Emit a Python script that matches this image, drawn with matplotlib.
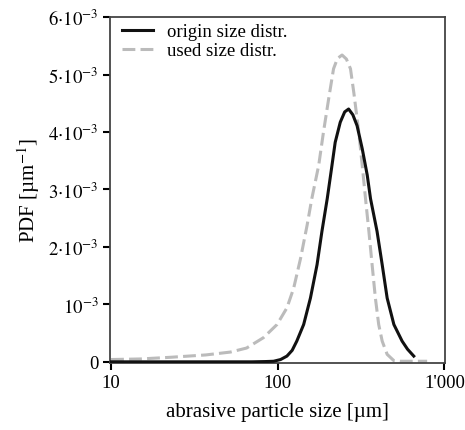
import matplotlib
matplotlib.use('Agg')
import matplotlib.pyplot as plt
from matplotlib.ticker import FixedLocator, NullLocator

plt.rcParams['font.family'] = ['Liberation Serif', 'DejaVu Serif']
plt.rcParams['mathtext.fontset'] = 'stix'

# origin size distribution (size in um, PDF in 1e-3 / um)
origin_x = [10, 40, 70, 85, 94.4, 104, 113.5, 122, 130, 143, 157, 172, 184, 198, 210,
            221, 237, 252, 266, 282, 299, 321, 344, 360, 394, 423, 453, 497, 557, 600, 654]
origin_y = [0.0, 0.0, 0.0, 0.005, 0.01, 0.04, 0.10, 0.20, 0.36, 0.65, 1.11, 1.69, 2.27,
            2.84, 3.36, 3.82, 4.17, 4.35, 4.40, 4.30, 4.11, 3.71, 3.25, 2.84, 2.27, 1.69,
            1.11, 0.65, 0.36, 0.22, 0.10]

# used size distribution
used_x = [10, 15, 23, 37, 52, 65, 82, 99, 113.5, 124.5, 137, 150, 160, 176, 188, 202,
          216, 228, 243, 258, 273, 286, 306, 321, 336, 352, 368, 385, 403, 423, 453,
          497, 540, 787]
used_y = [0.04, 0.05, 0.08, 0.12, 0.17, 0.24, 0.42, 0.65, 0.94, 1.28, 1.80, 2.38, 2.84,
          3.42, 4.00, 4.58, 5.10, 5.28, 5.34, 5.27, 5.10, 4.68, 4.00, 3.42, 2.84, 2.27,
          1.69, 1.11, 0.65, 0.36, 0.13, 0.02, 0.01, 0.01]

y_ticks = [0, 1, 2, 3, 4, 5, 6]
y_labels = ['0', r'$10^{-3}$', r'$2{\cdot}10^{-3}$', r'$3{\cdot}10^{-3}$',
            r'$4{\cdot}10^{-3}$', r'$5{\cdot}10^{-3}$', r'$6{\cdot}10^{-3}$']
x_ticks = [10, 100, 1000]
x_labels = ['10', '100', "1'000"]

fig = plt.figure(figsize=(4.65, 4.31), dpi=100)
ax = fig.add_axes([0.2366, 0.1555, 0.7204, 0.8025])

ax.plot(origin_x, [v * 1e-3 for v in origin_y], color='#111111', lw=2.2,
        label='origin size distr.', zorder=3, solid_joinstyle='round')
ax.plot(used_x, [v * 1e-3 for v in used_y], color='#bbbbbb', lw=2.2,
        dashes=(4.2, 1.7), label='used size distr.', zorder=2)

ax.set_xscale('log')
ax.set_xlim(9.86, 1007)
ax.set_ylim(-0.02e-3, 6e-3)
ax.xaxis.set_major_locator(FixedLocator(x_ticks))
ax.xaxis.set_minor_locator(NullLocator())
ax.set_xticklabels(x_labels)
ax.set_yticks([v * 1e-3 for v in y_ticks])
ax.set_yticklabels(y_labels)

for s in ax.spines.values():
    s.set_color('#444444')
    s.set_linewidth(1.3)
ax.tick_params(axis='both', direction='out', length=5, width=1.5, color='black',
               labelsize=13.5, pad=3)

ax.set_xlabel('abrasive particle size [µm]', fontsize=15, labelpad=8)
ax.set_ylabel(r'PDF [µm$^{-1}$]', fontsize=15, labelpad=5)

ax.legend(loc='upper left', frameon=False, fontsize=13.5, handlelength=1.65,
          borderaxespad=0, borderpad=0, labelspacing=0.1, handletextpad=0.75,
          bbox_to_anchor=(0.036, 0.983))

fig.savefig('out.png', dpi=100)
